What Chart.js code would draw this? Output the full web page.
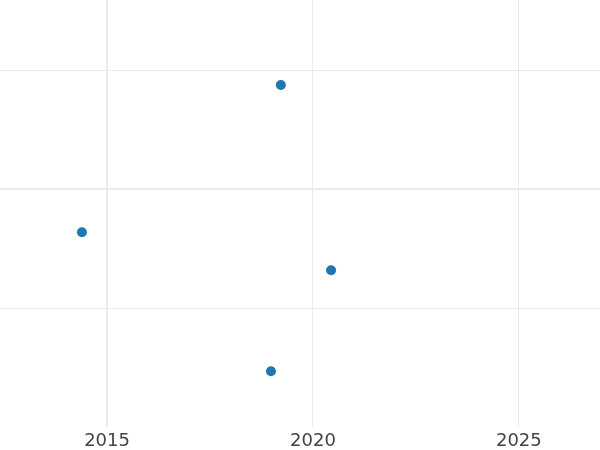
<!DOCTYPE html>
<html>
<head>
<meta charset="utf-8">
<script src="https://cdn.jsdelivr.net/npm/chart.js@4/dist/chart.umd.min.js"></script>
<style>
html,body{margin:0;padding:0;background:#fff;}
#wrap{width:600px;height:450px;position:relative;}
</style>
</head>
<body>
<div id="wrap"><canvas id="c"></canvas></div>
<script>
const xValues = [2014.39, 2019.22, 2020.44, 2018.98];
const yValues = [-0.36, 0.88, -0.68, -1.53];
const xTicks = [2015, 2020, 2025];
const yTicks = [-1, 0, 1];

const points = xValues.map((x, i) => ({x: x, y: yValues[i]}));

new Chart(document.getElementById('c'), {
  type: 'scatter',
  data: {
    datasets: [{
      data: points,
      backgroundColor: '#1f77b4',
      borderColor: '#1f77b4',
      pointRadius: 5,
      pointHoverRadius: 5,
      borderWidth: 0
    }]
  },
  options: {
    responsive: true,
    maintainAspectRatio: false,
    animation: false,
    layout: {padding: 0, autoPadding: false},
    plugins: {legend: {display: false}, tooltip: {enabled: false}},
    scales: {
      x: {
        type: 'linear',
        min: 2012.4,
        max: 2026.97,
        afterBuildTicks: (axis) => { axis.ticks = xTicks.map(v => ({value: v})); },
        afterFit: (axis) => { axis.height = 23; },
        border: {display: false},
        grid: {
          drawTicks: false,
          color: '#ebebeb',
          lineWidth: (ctx) => (ctx.tick && ctx.tick.value === 2015 ? 2 : 1)
        },
        ticks: {
          padding: 5.5,
          color: '#444444',
          font: {family: 'DejaVu Sans', size: 18, lineHeight: 1.0},
          callback: (v) => String(v)
        }
      },
      y: {
        type: 'linear',
        min: -2.0,
        max: 1.595,
        afterBuildTicks: (axis) => { axis.ticks = yTicks.map(v => ({value: v})); },
        border: {display: false},
        grid: {
          drawTicks: false,
          color: '#ebebeb',
          lineWidth: (ctx) => (ctx.tick && ctx.tick.value === 0 ? 2 : 1)
        },
        ticks: {display: false}
      }
    }
  }
});
</script>
</body>
</html>
